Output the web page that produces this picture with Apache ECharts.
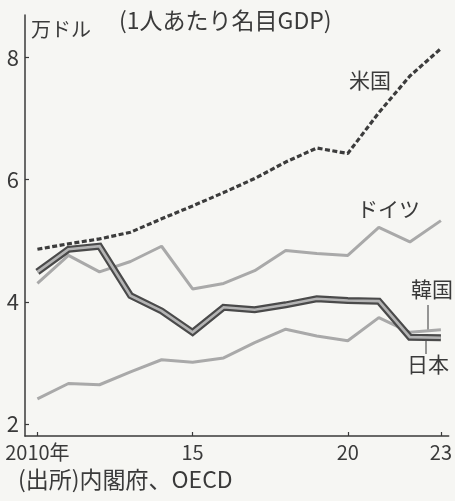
<!DOCTYPE html>
<html>
<head>
<meta charset="utf-8">
<script src="https://cdn.jsdelivr.net/npm/echarts@6/dist/echarts.min.js"></script>
<style>
  html, body { margin: 0; padding: 0; background: #f6f6f3; }
  #chart { width: 455px; height: 501px; }
</style>
</head>
<body>
<div id="chart"></div>
<script>
// 1人あたり名目GDP（万ドル）
const years = [2010, 2011, 2012, 2013, 2014, 2015, 2016, 2017, 2018, 2019, 2020, 2021, 2022, 2023];
const usa     = [4.86, 4.95, 5.03, 5.14, 5.36, 5.57, 5.79, 6.02, 6.29, 6.52, 6.43, 7.10, 7.70, 8.15];
const germany = [4.30, 4.76, 4.49, 4.66, 4.91, 4.21, 4.30, 4.51, 4.84, 4.79, 4.76, 5.22, 4.98, 5.33];
const korea   = [2.41, 2.66, 2.64, 2.85, 3.05, 3.01, 3.08, 3.33, 3.55, 3.44, 3.36, 3.74, 3.50, 3.54];
const japan   = [4.49, 4.86, 4.91, 4.10, 3.85, 3.50, 3.91, 3.87, 3.95, 4.05, 4.02, 4.01, 3.42, 3.41];

const yTicks = [2, 4, 6, 8];
const xTicks = [2010, 2015, 2020, 2023];

const FONT = '"Noto Sans CJK JP", "Noto Sans", sans-serif';
const INK = '#3a3a3a';

const pairs = arr => years.map((y, i) => [y, arr[i]]);

const chart = echarts.init(document.getElementById('chart'), null, { renderer: 'canvas' });

chart.setOption({
  backgroundColor: '#f6f6f3',
  animation: false,
  grid: { left: 25, top: 15, width: 427, height: 421, containLabel: false },
  xAxis: {
    type: 'value',
    min: 2009.6,
    max: 2023.25,
    splitLine: { show: false },
    axisLine: { show: true, onZero: false, lineStyle: { color: INK, width: 1.5 } },
    axisTick: { show: true, inside: true, length: 4, customValues: xTicks, lineStyle: { color: INK, width: 1.2 } },
    axisLabel: {
      customValues: xTicks,
      margin: 6,
      color: INK,
      fontFamily: FONT,
      fontSize: 20,
      formatter: v => (v === 2010 ? '2010年' : String(v).slice(2))
    }
  },
  yAxis: {
    type: 'value',
    min: 1.8,
    max: 8.7,
    splitLine: { show: false },
    axisLine: { show: true, onZero: false, lineStyle: { color: INK, width: 1.5 } },
    axisTick: { show: true, inside: true, length: 4, customValues: yTicks, lineStyle: { color: INK, width: 1.2 } },
    axisLabel: {
      customValues: yTicks,
      margin: 6,
      color: INK,
      fontFamily: FONT,
      fontSize: 22
    }
  },
  series: [
    {
      name: '韓国', type: 'line', data: pairs(korea), symbol: 'none', z: 2,
      lineStyle: { color: '#a9a9a9', width: 3 }
    },
    {
      name: 'ドイツ', type: 'line', data: pairs(germany), symbol: 'none', z: 2,
      lineStyle: { color: '#a9a9a9', width: 3 }
    },
    {
      name: '米国', type: 'line', data: pairs(usa), symbol: 'none', z: 3,
      lineStyle: { color: '#3c3c3c', width: 3.2, type: [5, 2.5] }
    },
    {
      name: '日本', type: 'line', data: pairs(japan), symbol: 'none', z: 4,
      lineStyle: { color: '#4a4a4a', width: 7, join: 'miter' }
    },
    {
      name: '日本', type: 'line', data: pairs(japan), symbol: 'none', z: 5,
      lineStyle: { color: '#b4b4b4', width: 2.6, join: 'miter' }
    }
  ],
  graphic: [
    { type: 'text', left: 31, top: 19, style: { text: '万ドル', fill: INK, font: '20px ' + FONT } },
    { type: 'text', left: 119, top: 9, style: { text: '(1人あたり名目GDP)', fill: INK, font: '23px ' + FONT } },
    { type: 'text', left: 349, top: 70, style: { text: '米国', fill: INK, font: '21px ' + FONT } },
    { type: 'text', left: 357, top: 199, style: { text: 'ドイツ', fill: INK, font: '21px ' + FONT } },
    { type: 'text', left: 411, top: 279, style: { text: '韓国', fill: INK, font: '21px ' + FONT } },
    { type: 'text', left: 407, top: 354, style: { text: '日本', fill: INK, font: '21px ' + FONT } },
    { type: 'line', shape: { x1: 428, y1: 305, x2: 428, y2: 330 }, style: { stroke: '#555', lineWidth: 1.2 } },
    { type: 'line', shape: { x1: 426, y1: 340, x2: 426, y2: 354 }, style: { stroke: '#555', lineWidth: 1.2 } },
    { type: 'text', left: 18, top: 468, style: { text: '(出所)内閣府、OECD', fill: INK, font: '23px ' + FONT } }
  ]
});
</script>
</body>
</html>
